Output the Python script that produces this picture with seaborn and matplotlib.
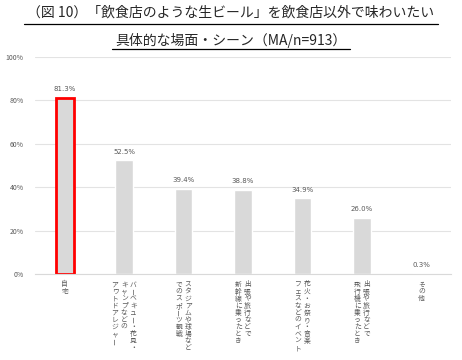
import numpy as np
import pandas as pd
import matplotlib
matplotlib.use("Agg")
import matplotlib.pyplot as plt
import seaborn as sb

# data
scenes = ["自宅",
          "バーベキュー・花見・\nキャンプなどの\nアウトドアレジャー",
          "スタジアムや球場など\nでのスポーツ観戦",
          "出張や旅行などで\n新幹線に乗ったとき",
          "花火・お祭り・音楽\nフェスなどのイベント",
          "出張や旅行などで\n飛行機に乗ったとき",
          "その他"]
share = [81.3, 52.5, 39.4, 38.8, 34.9, 26.0, 0.3]
yticks = [0, 20, 40, 60, 80, 100]
title_1 = "（図 10）「飲食店のような生ビール」を飲食店以外で味わいたい"
title_2 = "具体的な場面・シーン（MA/n=913）"

sb.set_style("white")
plt.rcParams["font.family"] = ["Noto Sans CJK JP", "DejaVu Sans"]

df = pd.DataFrame({"scene": [str(i) for i in range(len(scenes))], "share": share})

fig = plt.figure(figsize=(4.62, 3.6), dpi=100)
ax = fig.add_axes([35 / 462, 1 - 274 / 360, 416 / 462, 217 / 360])
sb.barplot(data=df, x="scene", y="share", color="#d9d9d9", saturation=1, width=0.3, ax=ax)

# highlight the first bar
ax.patches[0].set_edgecolor("#ff0000")
ax.patches[0].set_linewidth(2)

ax.set_ylim(0, 100)
ax.set_xlim(-0.5, len(scenes) - 0.5)
ax.set_yticks(yticks)
ax.set_yticklabels([f"{t}%" for t in yticks], fontsize=5, color="#595959")
ax.tick_params(axis="y", length=0, pad=8)
ax.tick_params(axis="x", length=0)
ax.set_xticklabels([])
ax.set_xlabel("")
ax.set_ylabel("")
ax.grid(axis="y", color="#e3e3e3", linewidth=0.8)
ax.set_axisbelow(True)
for s in ["top", "right", "left"]:
    ax.spines[s].set_visible(False)
ax.spines["bottom"].set_color("#d9d9d9")

for i, v in enumerate(share):
    ax.annotate(f"{v:.1f}%", (i, v), xytext=(0, 4), textcoords="offset points",
                ha="center", va="bottom", fontsize=5, color="#595959",
                family=["DejaVu Sans"])

# vertical (tategaki) category labels, columns right to left
step = 5.1
col_gap = 6.6
for i, lab in enumerate(scenes):
    cols = lab.split("\n")
    n = len(cols)
    for j, col in enumerate(cols):
        dx = ((n - 1) / 2 - j) * col_gap
        for k, ch in enumerate(col):
            rot = 90 if ch == "ー" else 0
            ax.annotate(ch, (i, 0), xycoords=("data", "axes fraction"),
                        xytext=(dx, -5 - k * step - step / 2), textcoords="offset points",
                        ha="center", va="center", fontsize=4.9, color="#595959",
                        rotation=rot)

t1 = fig.text(0.5, 1 - 13 / 360, title_1, ha="center", va="center", fontsize=10)
t2 = fig.text(0.5, 1 - 41 / 360, title_2, ha="center", va="center", fontsize=10)

# underline the title lines
fig.canvas.draw()
r = fig.canvas.get_renderer()
for t, ypix in [(t1, 23.5), (t2, 49)]:
    bb = t.get_window_extent(r)
    fig.add_artist(plt.Line2D([(bb.x0 - 3) / 462, (bb.x1 + 3) / 462],
                              [1 - ypix / 360, 1 - ypix / 360],
                              transform=fig.transFigure, color="black", linewidth=0.9))

plt.savefig("out.png", dpi=100)
